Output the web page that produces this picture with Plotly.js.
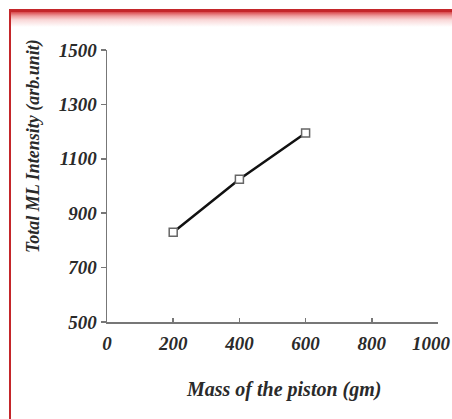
<!DOCTYPE html>
<html>
<head>
<meta charset="utf-8">
<script src="https://cdn.plot.ly/plotly-3.0.1.min.js"></script>
<style>
  html, body { margin: 0; padding: 0; background: #fff; }
  #wrap { position: relative; width: 452px; height: 419px; overflow: hidden; }
  #frame {
    position: absolute; left: 9px; top: 9px; width: 446px; height: 430px;
    border-left: 2px solid #c4262a; border-top: 3px solid #c4262a;
    border-right: 2px solid #f6d6d6;
    background: linear-gradient(to bottom, #d9484b 0px, #ef9fa0 4px, #f9d8d8 8px, #ffffff 15px);
    box-sizing: border-box;
  }
  #chart { position: absolute; left: 0; top: 0; }
</style>
</head>
<body>
<div id="wrap">
  <div id="frame"></div>
  <div id="chart"></div>
</div>
<script>
const pistonMass = [200, 400, 600];
const mlIntensity = [830, 1025, 1195];
const xTickVals = [0, 200, 400, 600, 800, 1000];
const xTickText = ['0', '200', '400', '600', '800', '1000'];
const yTickVals = [500, 700, 900, 1100, 1300, 1500];
const yTickText = ['500', '700', '900', '1100', '1300', '1500'];
const xTitle = 'Mass of the piston (gm)';
const yTitle = 'Total ML Intensity (arb.unit)';

const fontFam = '"Liberation Serif", "DejaVu Serif", serif';

const trace = {
  x: pistonMass, y: mlIntensity,
  type: 'scatter', mode: 'lines+markers',
  line: {color: '#111', width: 2.5},
  marker: {symbol: 'square', size: 8, color: '#fff', line: {width: 1.5, color: '#666'}},
  showlegend: false, cliponaxis: false
};

const tickFont = {family: fontFam, size: 19, color: '#2a2a2a', weight: 'bold', style: 'italic'};

// The last x tick label sits against the right edge; draw it as an annotation anchored on the axis value
const lastIdx = xTickVals.length - 1;
const xTickTextShown = xTickText.map((t, i) => i === lastIdx ? '' : t);

const layout = {
  width: 452, height: 419,
  margin: {l: 107, r: 14, t: 50, b: 97},
  paper_bgcolor: 'rgba(0,0,0,0)', plot_bgcolor: 'rgba(0,0,0,0)',
  xaxis: {
    range: [0, 1000], tickvals: xTickVals, ticktext: xTickTextShown,
    showgrid: false, zeroline: false, showline: true, linecolor: '#777', linewidth: 1.5,
    ticks: 'inside', ticklen: 4, tickcolor: '#777', tickwidth: 1.5,
    tickfont: tickFont, ticklabeloverflow: 'allow', ticklabelstandoff: 4,
    fixedrange: true
  },
  yaxis: {
    range: [500, 1500], tickvals: yTickVals, ticktext: yTickText,
    showgrid: false, zeroline: false, showline: true, linecolor: '#777', linewidth: 1.5,
    ticks: 'outside', ticklen: 5, tickcolor: '#777', tickwidth: 1.5,
    tickfont: tickFont, ticklabeloverflow: 'allow',
    fixedrange: true
  },
  annotations: [
    {text: xTickText[lastIdx], xref: 'x', yref: 'paper', x: xTickVals[lastIdx], y: -(343 - 322) / 272,
     xshift: -7, showarrow: false, xanchor: 'center', yanchor: 'middle', font: tickFont},
    {text: xTitle, xref: 'paper', yref: 'paper', x: (283 - 107) / 331, y: -(389 - 322) / 272,
     showarrow: false, xanchor: 'center', yanchor: 'middle',
     font: {family: fontFam, size: 20, color: '#2a2a2a', weight: 'bold', style: 'italic'}},
    {text: yTitle, xref: 'paper', yref: 'paper', x: (33 - 107) / 331, y: (322 - 146) / 272,
     showarrow: false, xanchor: 'center', yanchor: 'middle', textangle: -90,
     font: {family: fontFam, size: 18, color: '#2a2a2a', weight: 'bold', style: 'italic'}}
  ]
};

Plotly.newPlot('chart', [trace], layout, {displayModeBar: false, staticPlot: true});
</script>
</body>
</html>
